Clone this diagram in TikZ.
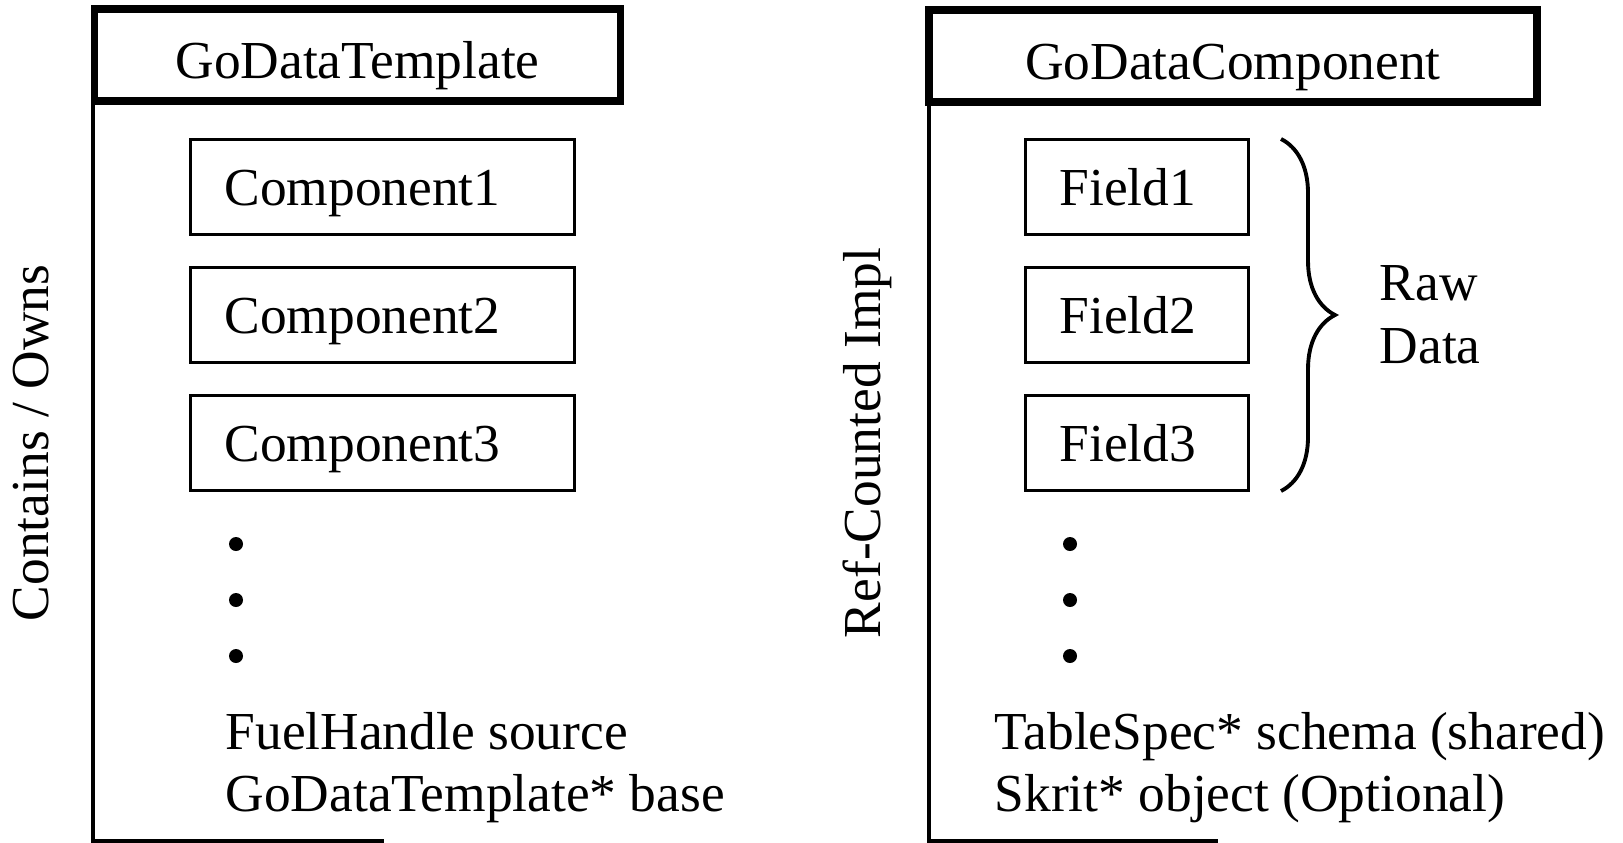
\documentclass[tikz,border=0pt]{standalone}
\usepackage{fontspec}
\setmainfont{Liberation Serif}
\usetikzlibrary{decorations.pathreplacing}
\begin{document}
\begin{tikzpicture}[font=\fontsize{15.2}{18}\selectfont,
    head node/.style={draw, line width=2.2pt, minimum height=0.92cm, inner sep=0pt, text height=0.58cm, text depth=0.11cm},
    item node/.style={draw, line width=0.75pt, minimum height=0.95cm, inner xsep=0.34cm, text width=#1, align=left, text height=0.48cm, text depth=0.11cm},
    bullet node/.style={circle, fill, inner sep=0pt, minimum size=0.14cm},
    side line/.style={line width=1pt}]

    \useasboundingbox (0,0) rectangle (16.23,8.42);

    % Template side
    \node[head node, minimum width=5.26cm] (T) at (3.575,7.87) {GoDataTemplate};
    \node[item node=3.16cm] (C1) at (3.825,6.55) {Component1};
    \node[item node=3.16cm] (C2) at (3.825,5.27) {Component2};
    \node[item node=3.16cm] (C3) at (3.825,3.99) {Component3};

    \node[bullet node] (Td1) at (2.36,2.98) {};
    \node[bullet node] (Td2) at (2.36,2.42) {};
    \node[bullet node] (Td3) at (2.36,1.86) {};

    \node[anchor=base west, inner sep=0pt] (Tsrc) at (2.25,0.93) {FuelHandle source};
    \node[anchor=base west, inner sep=0pt] (Tbase) at (2.25,0.31) {GoDataTemplate* base};

    \node[rotate=90] (Town) at (0.31,3.99) {Contains / Owns};

    \coordinate (Tcorner) at (0.93,0.01);
    \coordinate (Tend) at (3.84,0.01);
    \draw[side line] (T.south west -| Tcorner) -- (Tcorner) -- (Tend);

    % Component side
    \node[head node, minimum width=6.08cm] (G) at (12.33,7.86) {GoDataComponent};
    \node[item node=1.55cm] (F1) at (11.37,6.55) {Field1};
    \node[item node=1.55cm] (F2) at (11.37,5.27) {Field2};
    \node[item node=1.55cm] (F3) at (11.37,3.99) {Field3};

    \node[bullet node] (Gd1) at (10.70,2.98) {};
    \node[bullet node] (Gd2) at (10.70,2.42) {};
    \node[bullet node] (Gd3) at (10.70,1.86) {};

    \node[anchor=base west, inner sep=0pt] (Gschema) at (9.94,0.93) {TableSpec* schema (shared)};
    \node[anchor=base west, inner sep=0pt] (Gobj) at (9.94,0.31) {Skrit* object (Optional)};

    \node[rotate=90] (Gref) at (8.67,3.99) {Ref-Counted Impl};

    \coordinate (Gcorner) at (9.29,0.01);
    \coordinate (Gend) at (12.18,0.01);
    \draw[side line] (G.south west -| Gcorner) -- (Gcorner) -- (Gend);

    % brace over the fields
    \coordinate (Btop) at (12.81,7.03);
    \coordinate (Bbot) at (12.81,3.51);
    \draw[line width=1.1pt, decorate, decoration={brace, amplitude=0.54cm}] (Btop) -- (Bbot);
    \node[anchor=west, align=left, inner sep=0pt] (raw) at (13.79,5.27) {Raw\\Data};

\end{tikzpicture}
\end{document}
